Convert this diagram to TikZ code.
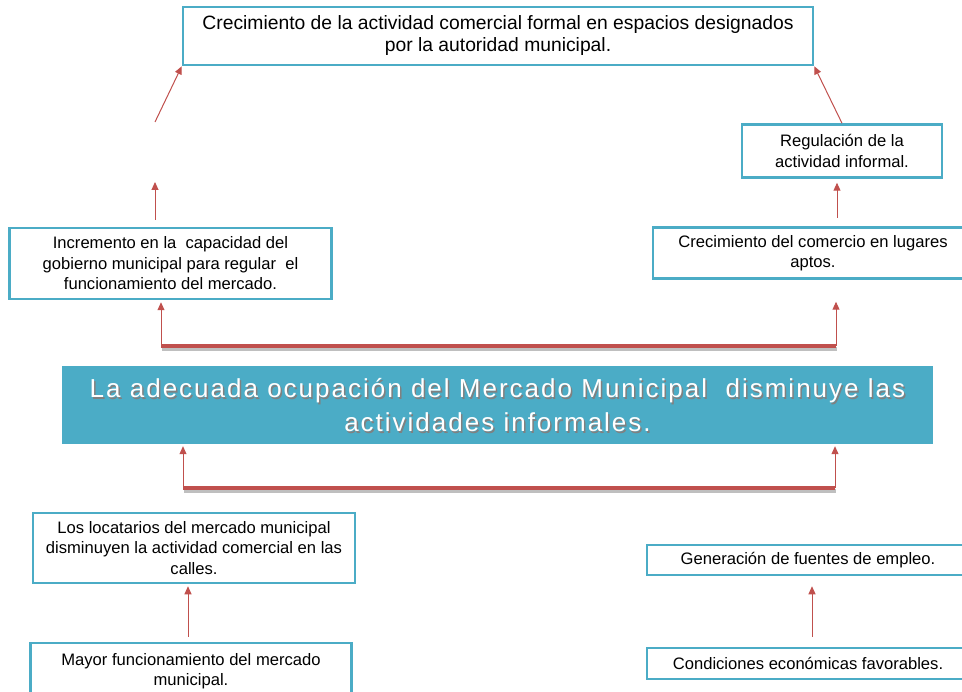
\documentclass[tikz,border=0pt]{standalone}
\usepackage{fontspec}
\setmainfont{Liberation Sans}
\newfontfamily\mainfam[LetterSpace=7.7]{Liberation Sans}
\usetikzlibrary{arrows.meta,calc}
\definecolor{boxblue}{RGB}{75,172,198}
\definecolor{arrred}{RGB}{192,80,77}
\tikzset{
  bx/.style={draw=boxblue, line width=2.5pt, fill=white, align=center, inner sep=0pt,
    font=\fontsize{16.6}{20.5}\selectfont},
  arr/.style={draw=arrred, line width=1pt, -{Triangle[length=8pt,width=7pt]}},
  thick line/.style={draw=arrred, line width=4pt},
  shadowline/.style={draw=black!25, line width=4pt},
  maintext/.style={align=center, font=\mainfam\fontsize{26}{34}\selectfont}
}
\begin{document}
\begin{tikzpicture}[x=1pt,y=-1pt]
\useasboundingbox (0,0) rectangle (962,692);
\clip (0,0) rectangle (962,692);
% boxes
\node[bx, minimum width=630, minimum height=58, font=\fontsize{19.3}{22}\selectfont] (top) at (498,36)
  {Crecimiento de la actividad comercial formal en espacios designados\\por la autoridad municipal.};
\node[bx, minimum width=200, minimum height=53] (reg) at (842,151)
  {Regulación de la\\actividad informal.};
\node[bx, minimum width=320, minimum height=51] (crec) at (813,253)
  {Crecimiento del comercio en lugares\\aptos.};
\node[bx, minimum width=322, minimum height=71] (inc) at (170.5,263.5)
  {Incremento en la\ \ capacidad del\\gobierno municipal para regular\ \ el\\funcionamiento del mercado.};
\node[fill=boxblue, minimum width=871, minimum height=78, inner sep=0pt] (main) at (497.5,405) {};
\node[maintext, text=black!50] (mainsh) at ($(main.center)+(1.5,1.8)$)
  {La adecuada ocupación del Mercado Municipal\ \ disminuye las\\actividades informales.};
\node[maintext, text=white] (maintxt) at (main.center)
  {La adecuada ocupación del Mercado Municipal\ \ disminuye las\\actividades informales.};
\node[bx, minimum width=322, minimum height=70] (loc) at (194,548)
  {Los locatarios del mercado municipal\\disminuyen la actividad comercial en las\\calles.};
\node[bx, minimum width=321, minimum height=56] (may) at (191,671)
  {Mayor funcionamiento del mercado\\municipal.};
\node[bx, minimum width=322, minimum height=30] (gen) at (808,560)
  {Generación de fuentes de empleo.};
\node[bx, minimum width=322, minimum height=31] (cond) at (808,663.5)
  {Condiciones económicas favorables.};
% coordinates
\coordinate (d1t) at (155,122);
\coordinate (f1t) at (155,220);
\coordinate (f1h) at (155,182);
\coordinate (rt) at (837,218);
\coordinate (ub) at (836,346);
\coordinate (ua) at (161,346);
\coordinate (lb) at (835,488);
\coordinate (la) at (183,488);
% arrows
\draw[arr] (d1t) -- (top.south west);
\draw[arr] (reg.north) -- (top.south east);
\draw[arr] (f1t) -- (f1h);
\draw[arr] (rt) -- ($(reg.south -| rt)+(0,4)$);
% brackets
\draw[shadowline] ($(ua)+(1,3)$) -- ($(ub)+(1,3)$);
\draw[thick line] (ua) -- (ub);
\draw[arr] (ua) -- ($(inc.south -| ua)+(0,2)$);
\draw[arr] (ub) -- ($(crec.south -| ub)+(0,22)$);
\draw[shadowline] ($(la)+(1,3)$) -- ($(lb)+(1,3)$);
\draw[thick line] (la) -- (lb);
\draw[arr] (la) -- ($(main.south -| la)+(0,2)$);
\draw[arr] (lb) -- ($(main.south -| lb)+(0,2)$);
% lower arrows
\draw[arr] ($(may.north)+(-3,-5)$) -- ($(loc.south)+(-6,2)$);
\draw[arr] ($(cond.north)+(4,-10)$) -- ($(gen.south)+(4,10)$);
\end{tikzpicture}
\end{document}
